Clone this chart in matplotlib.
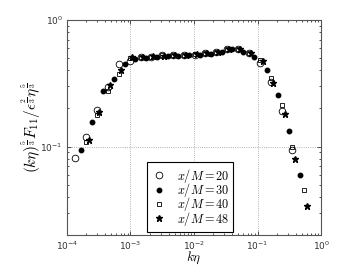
import numpy as np
import matplotlib
matplotlib.use('Agg')
import matplotlib.pyplot as plt
from matplotlib.ticker import LogLocator, NullFormatter

plt.rcParams['mathtext.fontset'] = 'dejavusans'

# x/M = 20 (open circles)
k_20 = [1.34e-4, 1.99e-4, 2.96e-4, 4.37e-4, 6.59e-4, 9.82e-4, 1.45e-3, 2.14e-3, 3.16e-3,
        4.68e-3, 6.9e-3, 1.02e-2, 1.51e-2, 2.24e-2, 3.31e-2, 4.9e-2, 7.24e-2, 0.110,
        0.160, 0.245, 0.355]
f_20 = [0.0805, 0.119, 0.193, 0.295, 0.45, 0.471, 0.507, 0.511, 0.525, 0.530, 0.525,
        0.533, 0.545, 0.555, 0.591, 0.591, 0.545, 0.458, 0.325, 0.190, 0.0947]

# x/M = 30 (filled dots)
k_30 = [1.68e-4, 2.48e-4, 3.73e-4, 5.50e-4, 8.28e-4, 1.19e-3, 1.76e-3, 2.61e-3, 3.85e-3,
        5.68e-3, 8.40e-3, 1.24e-2, 1.84e-2, 2.72e-2, 4.03e-2, 5.96e-2, 8.91e-2, 0.140,
        0.208, 0.310, 0.458]
f_30 = [0.0947, 0.1565, 0.2725, 0.343, 0.448, 0.493, 0.502, 0.511, 0.521, 0.521, 0.525,
        0.533, 0.540, 0.560, 0.588, 0.563, 0.514, 0.399, 0.257, 0.133, 0.0599]

# x/M = 40 (open squares)
k_40 = [1.99e-4, 2.96e-4, 4.37e-4, 6.59e-4, 9.82e-4, 1.45e-3, 2.14e-3, 3.16e-3, 4.68e-3,
        6.9e-3, 1.02e-2, 1.51e-2, 2.24e-2, 3.31e-2, 4.9e-2, 7.24e-2, 0.110, 0.160, 0.245,
        0.355, 0.540]
f_40 = [0.109, 0.177, 0.277, 0.373, 0.505, 0.51, 0.51, 0.53, 0.53, 0.53, 0.535, 0.55,
        0.56, 0.585, 0.59, 0.545, 0.484, 0.347, 0.211, 0.0995, 0.0453]

# x/M = 48 (stars)
k_48 = [2.22e-4, 3.23e-4, 4.75e-4, 7.08e-4, 1.05e-3, 1.55e-3, 2.29e-3, 3.39e-3, 5.01e-3,
        7.41e-3, 1.10e-2, 1.62e-2, 2.40e-2, 3.55e-2, 5.25e-2, 7.76e-2, 0.120, 0.177, 0.271,
        0.393, 0.596]
f_48 = [0.112, 0.188, 0.308, 0.404, 0.508, 0.51, 0.515, 0.52, 0.525, 0.53, 0.535, 0.545,
        0.555, 0.585, 0.59, 0.55, 0.47, 0.317, 0.181, 0.080, 0.0341]

labels = ['$x/M = 20$', '$x/M = 30$', '$x/M = 40$', '$x/M = 48$']

fig = plt.figure(figsize=(3.54, 2.66), dpi=100)
ax = fig.add_axes([0.189, 0.1165, 0.718, 0.8085])

ax.plot(k_20, f_20, 'o', mfc='none', mec='k', ms=4.8, mew=0.6, label=labels[0])
ax.plot(k_30, f_30, 'o', mfc='k', mec='k', ms=3.2, label=labels[1])
ax.plot(k_40, f_40, 's', mfc='none', mec='k', ms=3.3, mew=0.6, label=labels[2])
ax.plot(k_48, f_48, '*', mfc='k', mec='k', ms=4.6, label=labels[3])

ax.set_xscale('log')
ax.set_yscale('log')
ax.set_xlim(1e-4, 1)
ax.set_ylim(0.02, 1)
ax.yaxis.set_major_locator(LogLocator(base=10, numticks=5))
ax.yaxis.set_minor_locator(LogLocator(base=10, subs=np.arange(2, 10), numticks=10))
ax.yaxis.set_minor_formatter(NullFormatter())
ax.xaxis.set_minor_formatter(NullFormatter())

ax.grid(True, which='major', ls=':', color='#999999', lw=0.6)
ax.tick_params(which='both', direction='in', top=True, right=True, labelsize=6.5,
               colors='#333333', width=0.6)
ax.tick_params(which='major', length=3, pad=3)
ax.tick_params(which='minor', length=1.6)
for s in ax.spines.values():
    s.set_color('#555555')
    s.set_linewidth(0.8)

ax.set_xlabel(r'$k\eta$', fontsize=9.5, math_fontfamily='cm', labelpad=-1.2)
ax.set_ylabel(r'$(k\eta)^{\frac{5}{3}}F_{11}/\epsilon^{\frac{2}{3}}\eta^{\frac{5}{3}}$',
              fontsize=11, math_fontfamily='cm', labelpad=-1.5)

leg = ax.legend(loc='lower left', bbox_to_anchor=(0.314, 0.015), borderaxespad=0,
                fontsize=8.8, labelspacing=-0.3, handlelength=1.3, handletextpad=0.8,
                borderpad=0.35, fancybox=False, framealpha=1, edgecolor='k')
leg.get_frame().set_linewidth(0.8)
for t in leg.get_texts():
    t.set_math_fontfamily('cm')

fig.savefig('out.png', dpi=100)
